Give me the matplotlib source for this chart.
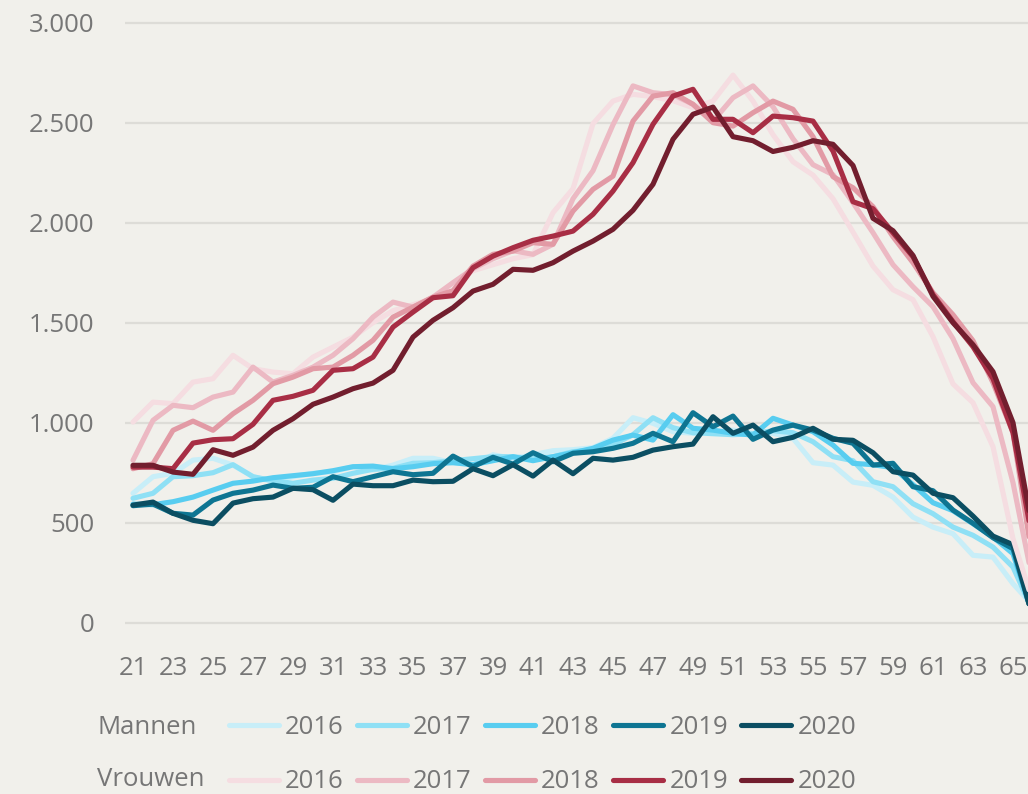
import matplotlib
matplotlib.use("Agg")
import matplotlib.pyplot as plt
from matplotlib.lines import Line2D

plt.rcParams['font.family'] = ['Open Sans', 'DejaVu Sans']

ages = list(range(21, 67))
years = ['2016', '2017', '2018', '2019', '2020']

men_2016 = [647, 730, 747, 813, 822, 788, 730, 705, 730, 747, 755, 780, 763, 788, 822, 822,
            800, 790, 840, 820, 840, 860, 865, 875, 922, 1025, 997, 955, 947, 955, 963, 947,
            947, 922, 800, 788, 703, 687, 628, 528, 478, 445, 337, 328, 195, 85]
men_2017 = [622, 647, 730, 735, 750, 790, 730, 710, 697, 713, 722, 747, 767, 772, 797, 800,
            810, 820, 830, 830, 820, 830, 855, 865, 890, 940, 1025, 975, 950, 945, 940, 945,
            960, 950, 905, 830, 810, 705, 680, 595, 545, 478, 437, 378, 278, 57]
men_2018 = [593, 590, 605, 628, 663, 697, 708, 725, 735, 745, 760, 780, 783, 770, 780, 795,
            800, 790, 810, 830, 810, 830, 850, 872, 913, 938, 913, 1040, 972, 963, 947, 938,
            1022, 988, 955, 888, 797, 790, 775, 690, 600, 560, 495, 428, 345, 34]
men_2019 = [585, 593, 547, 538, 613, 647, 663, 688, 672, 677, 730, 705, 730, 755, 740, 747,
            833, 780, 827, 793, 850, 805, 847, 855, 872, 897, 947, 905, 1050, 980, 1033, 917,
            963, 988, 963, 922, 897, 788, 797, 680, 660, 563, 497, 425, 370, 26]
men_2020 = [588, 603, 547, 512, 495, 598, 620, 628, 672, 665, 612, 693, 685, 685, 713, 705,
            707, 770, 735, 790, 733, 813, 745, 822, 813, 827, 863, 880, 893, 1030, 947, 988,
            905, 927, 972, 917, 912, 850, 755, 738, 647, 625, 533, 433, 390, 20]

women_2016 = [1003, 1103, 1095, 1203, 1220, 1337, 1270, 1253, 1245, 1328, 1378, 1428, 1500, 1560,
              1590, 1620, 1700, 1760, 1790, 1820, 1840, 2050, 2170, 2495, 2608, 2642, 2630, 2610,
              2575, 2608, 2738, 2608, 2440, 2305, 2238, 2120, 1953, 1783, 1665, 1615, 1430, 1194,
              1100, 880, 420, 100]
women_2017 = [812, 1012, 1087, 1075, 1128, 1153, 1278, 1203, 1237, 1278, 1337, 1420, 1528, 1603,
              1578, 1628, 1700, 1770, 1820, 1860, 1842, 1892, 2120, 2260, 2490, 2684, 2650, 2640,
              2592, 2508, 2625, 2684, 2580, 2420, 2290, 2240, 2100, 1950, 1790, 1680, 1580, 1420,
              1200, 1080, 700, 200]
women_2018 = [770, 795, 962, 1008, 962, 1045, 1112, 1195, 1228, 1270, 1278, 1337, 1412, 1528,
              1578, 1628, 1660, 1783, 1842, 1858, 1900, 1892, 2058, 2167, 2233, 2508, 2633, 2650,
              2592, 2500, 2483, 2550, 2608, 2567, 2430, 2230, 2175, 2080, 1930, 1800, 1650, 1540,
              1410, 1200, 950, 300]
women_2019 = [778, 778, 770, 898, 915, 920, 992, 1112, 1132, 1162, 1262, 1270, 1328, 1478,
              1553, 1625, 1635, 1775, 1833, 1875, 1912, 1933, 1958, 2042, 2158, 2300, 2492, 2633,
              2667, 2517, 2517, 2450, 2533, 2525, 2508, 2358, 2105, 2070, 1950, 1830, 1640, 1505,
              1380, 1220, 950, 400]
women_2020 = [787, 787, 753, 742, 865, 837, 878, 962, 1020, 1092, 1128, 1170, 1198, 1262,
              1428, 1512, 1575, 1658, 1692, 1767, 1762, 1800, 1858, 1908, 1967, 2062, 2192, 2417,
              2542, 2578, 2430, 2410, 2356, 2377, 2410, 2392, 2286, 2022, 1960, 1836, 1632, 1500,
              1390, 1255, 1000, 450]

men_series = [men_2016, men_2017, men_2018, men_2019, men_2020]
women_series = [women_2016, women_2017, women_2018, women_2019, women_2020]
men_colors = ['#c8eef8', '#8fe0f5', '#58cdf0', '#0e7592', '#0b4e62']
women_colors = ['#f5dde1', '#ecb9c3', '#e29aa5', '#a82e45', '#721e2e']

bg = '#f1f0eb'
grey = '#767676'
W, H = 1028, 794

fig = plt.figure(figsize=(W / 100, H / 100), dpi=100, facecolor=bg)
ax = fig.add_axes([125 / W, (H - 640) / H, 1 - 125 / W, (640 - 10) / H])
ax.set_facecolor(bg)

lw = 3.7
for vals, c in zip(men_series, men_colors):
    ax.plot(ages, vals, color=c, lw=lw, solid_joinstyle='round', solid_capstyle='round')
for vals, c in zip(women_series, women_colors):
    ax.plot(ages, vals, color=c, lw=lw, solid_joinstyle='round', solid_capstyle='round')

ax.set_xlim(20.6, 65.75)
ax.set_ylim(-86.5, 3063.5)
ax.set_yticks(range(0, 3001, 500))
ax.set_yticklabels([f"{v:,}".replace(',', '.') for v in range(0, 3001, 500)])
ax.set_xticks(ages[::2])
ax.set_xticklabels([str(a) for a in ages[::2]])
ax.yaxis.grid(True, color='#dddcd7', lw=1.6)
ax.set_axisbelow(True)
for s in ax.spines.values():
    s.set_visible(False)
ax.tick_params(axis='both', length=0, labelsize=18.5, labelcolor=grey)
ax.tick_params(axis='y', pad=22)
ax.tick_params(axis='x', pad=11.5)

def handles(colors):
    return [Line2D([0], [0], color=c, lw=lw, solid_capstyle='round') for c in colors]

for row_y, label, colors in [(727, 'Mannen', men_colors), (782, 'Vrouwen', women_colors)]:
    fig.text(97 / W, 1 - (row_y - 2 if label == 'Vrouwen' else row_y) / H, label,
             ha='left', va='center', fontsize=18.5, color=grey)
    fig.legend(handles=handles(colors), labels=years, ncol=5, loc='center left',
               bbox_to_anchor=(228.5 / W, 1 - row_y / H), frameon=False,
               fontsize=18.5, labelcolor=grey, handlelength=1.95, handletextpad=0.25,
               columnspacing=0.5, borderpad=0, borderaxespad=0)

fig.savefig('out.png', dpi=100, facecolor=bg)
